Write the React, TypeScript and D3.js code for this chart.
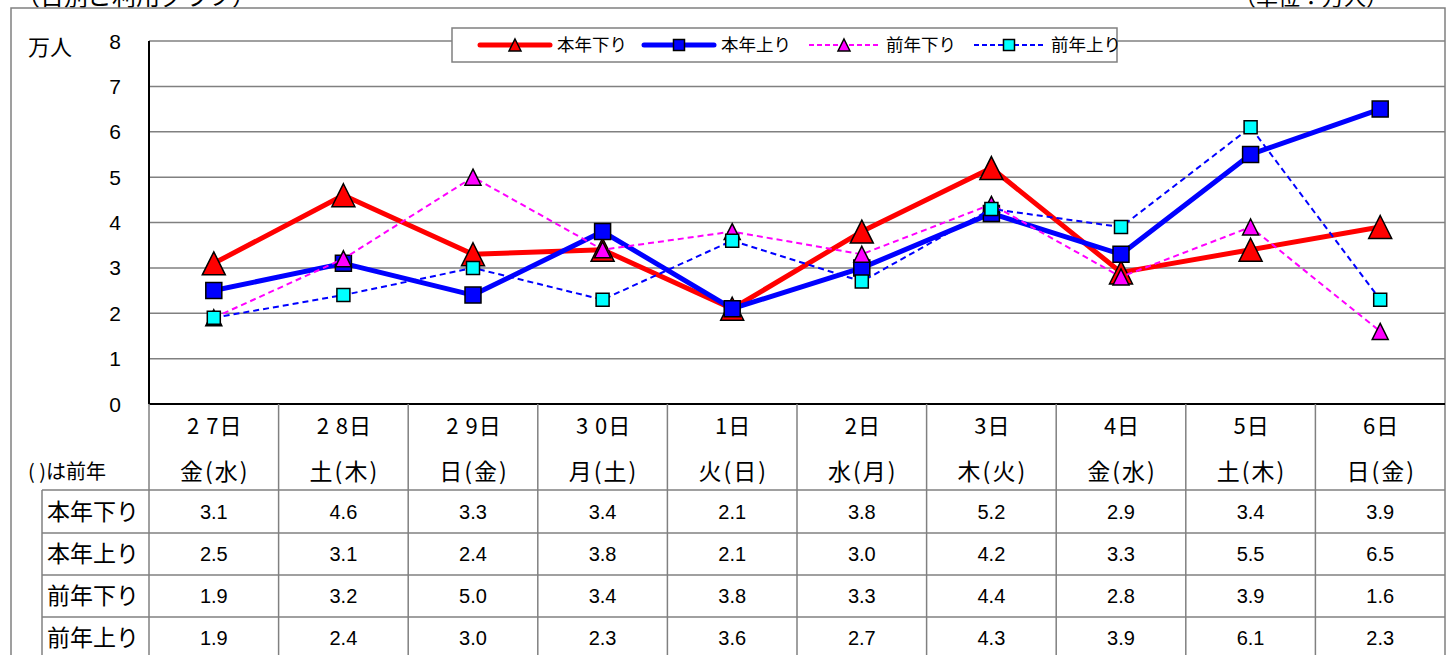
import * as d3 from "d3";
import { useEffect, useRef } from "react";

// categories
const days = ["2 7日", "2 8日", "2 9日", "3 0日", "1日", "2日", "3日", "4日", "5日", "6日"];
const weekdays = ["金(水)", "土(木)", "日(金)", "月(土)", "火(日)", "水(月)", "木(火)", "金(水)", "土(木)", "日(金)"];
const yTicks = [0, 1, 2, 3, 4, 5, 6, 7, 8];

// series values (万人)
const thisDown = [3.1, 4.6, 3.3, 3.4, 2.1, 3.8, 5.2, 2.9, 3.4, 3.9];
const thisUp = [2.5, 3.1, 2.4, 3.8, 2.1, 3.0, 4.2, 3.3, 5.5, 6.5];
const lastDown = [1.9, 3.2, 5.0, 3.4, 3.8, 3.3, 4.4, 2.8, 3.9, 1.6];
const lastUp = [1.9, 2.4, 3.0, 2.3, 3.6, 2.7, 4.3, 3.9, 6.1, 2.3];

const seriesNames = ["本年下り", "本年上り", "前年下り", "前年上り"];

const JP = "'Noto Sans CJK JP', sans-serif";
const NUM = "'Liberation Sans', Arial, sans-serif";

export default function App() {
  const svgRef = useRef(null);

  useEffect(() => {
    document.body.style.margin = "0";
    const svg = d3.select(svgRef.current);
    svg.selectAll("*").remove();

    const left = 149, right = 1445, top = 41, bottom = 404;
    const x = d3.scaleBand().domain(d3.range(days.length).map(String)).range([left, right]);
    const y = d3.scaleLinear().domain([0, 8]).range([bottom, top]);
    const cx = (i) => x(String(i)) + x.bandwidth() / 2;

    const series = [
      { name: seriesNames[0], data: thisDown, color: "#ff0000", width: 5, dash: null, marker: "tri", size: 23, fill: "#ff0000" },
      { name: seriesNames[1], data: thisUp, color: "#0000ff", width: 5, dash: null, marker: "sq", size: 16, fill: "#0000ff" },
      { name: seriesNames[2], data: lastDown, color: "#ff00ff", width: 2, dash: "6,4", marker: "tri", size: 16, fill: "#ff00ff" },
      { name: seriesNames[3], data: lastUp, color: "#0000ff", width: 2, dash: "6,4", marker: "sq", size: 13, fill: "#00ffff" },
    ];

    // titles (clipped at top)
    svg.append("text").attr("x", 16).attr("y", 5).attr("font-family", JP).attr("font-size", 24)
      .text("（日別ご利用グラフ）");
    svg.append("text").attr("x", 1388).attr("y", 5).attr("text-anchor", "end").attr("font-family", JP).attr("font-size", 22)
      .text("（単位：万人）");

    // outer frame
    const grey = "#808080";
    svg.append("path").attr("d", `M11,655V8H${right}V655`).attr("fill", "none").attr("stroke", grey).attr("stroke-width", 1.5);

    // gridlines
    svg.append("g").selectAll("line").data(yTicks.filter((t) => t > 0)).join("line")
      .attr("x1", left).attr("x2", right).attr("y1", (d) => y(d)).attr("y2", (d) => y(d))
      .attr("stroke", grey).attr("stroke-width", 1.5);

    // axes
    svg.append("line").attr("x1", left).attr("x2", left).attr("y1", top).attr("y2", bottom).attr("stroke", "#000").attr("stroke-width", 2);
    svg.append("line").attr("x1", left).attr("x2", right).attr("y1", bottom).attr("y2", bottom).attr("stroke", "#000").attr("stroke-width", 2);

    svg.append("g").selectAll("text").data(yTicks).join("text")
      .attr("x", 121).attr("y", (d) => y(d)).attr("dy", "0.36em").attr("text-anchor", "end")
      .attr("font-family", NUM).attr("font-size", 21).text((d) => d);
    svg.append("text").attr("x", 28).attr("y", 47).attr("dy", "0.36em").attr("font-family", JP).attr("font-size", 22).text("万人");

    // lines + markers
    const line = d3.line().x((d, i) => cx(i)).y((d) => y(d));
    const markerPath = (type, s) =>
      type === "tri"
        ? `M0,${-s / 2}L${s / 2},${s / 2}L${-s / 2},${s / 2}Z`
        : `M${-s / 2},${-s / 2}H${s / 2}V${s / 2}H${-s / 2}Z`;

    series.forEach((s) => {
      svg.append("path").datum(s.data).attr("d", line).attr("fill", "none")
        .attr("stroke", s.color).attr("stroke-width", s.width).attr("stroke-dasharray", s.dash)
        .attr("stroke-linejoin", "round");
      svg.append("g").selectAll("path").data(s.data).join("path")
        .attr("transform", (d, i) => `translate(${cx(i)},${y(d)})`)
        .attr("d", markerPath(s.marker, s.size))
        .attr("fill", s.fill).attr("stroke", "#000").attr("stroke-width", 1.5).attr("stroke-linejoin", "miter");
    });

    // legend
    const lg = svg.append("g");
    lg.append("rect").attr("x", 452).attr("y", 28).attr("width", 665).attr("height", 34)
      .attr("fill", "#fff").attr("stroke", grey).attr("stroke-width", 1.5);
    const legendX = [480, 644, 809, 974];
    const legendMarkerSize = [12, 11, 12, 11];
    series.forEach((s, k) => {
      const x0 = legendX[k];
      lg.append("line").attr("x1", x0).attr("x2", x0 + 70).attr("y1", 45).attr("y2", 45)
        .attr("stroke", s.color).attr("stroke-width", s.width).attr("stroke-dasharray", s.dash ? "5,3" : null).attr("stroke-linecap", s.dash ? "butt" : "round");
      lg.append("path").attr("transform", `translate(${x0 + 35},45)`).attr("d", markerPath(s.marker, legendMarkerSize[k]))
        .attr("fill", s.fill).attr("stroke", "#000").attr("stroke-width", 1.5);
      lg.append("text").attr("x", x0 + 77).attr("y", 45).attr("dy", "0.36em").attr("font-family", JP).attr("font-size", 17.5).text(s.name);
    });

    // data table
    const rowTops = [490, 533, 575, 617, 659];
    const tg = svg.append("g");
    x.domain().forEach((k) => {
      tg.append("line").attr("x1", x(k)).attr("x2", x(k)).attr("y1", bottom).attr("y2", 655).attr("stroke", grey).attr("stroke-width", 1.5);
    });
    tg.append("line").attr("x1", 42).attr("x2", 42).attr("y1", rowTops[0]).attr("y2", 655).attr("stroke", grey).attr("stroke-width", 1.5);
    rowTops.slice(0, 4).forEach((ry) => {
      tg.append("line").attr("x1", 42).attr("x2", right).attr("y1", ry).attr("y2", ry).attr("stroke", grey).attr("stroke-width", 1.5);
    });

    tg.selectAll("text.day").data(days).join("text").attr("class", "day")
      .attr("x", (d, i) => cx(i) + 1).attr("y", 426).attr("dy", "0.36em").attr("text-anchor", "middle")
      .attr("font-family", JP).attr("font-size", 22).attr("letter-spacing", 1).style("white-space", "pre").text((d) => d);
    tg.selectAll("text.wd").data(weekdays).join("text").attr("class", "wd")
      .attr("x", (d, i) => cx(i) + 1).attr("y", 472).attr("dy", "0.36em").attr("text-anchor", "middle")
      .attr("font-family", JP).attr("font-size", 23).attr("letter-spacing", 2).text((d) => d);
    tg.append("text").attr("x", 28).attr("y", 472).attr("dy", "0.36em").attr("font-family", JP).attr("font-size", 20).style("white-space", "pre").text("( )は前年");

    series.forEach((s, r) => {
      const yc = (rowTops[r] + rowTops[r + 1]) / 2;
      tg.append("text").attr("x", 47).attr("y", yc).attr("dy", "0.36em").attr("font-family", JP).attr("font-size", 23).text(s.name);
      tg.append("g").selectAll("text").data(s.data).join("text")
        .attr("x", (d, i) => cx(i)).attr("y", yc).attr("dy", "0.36em").attr("text-anchor", "middle")
        .attr("font-family", NUM).attr("font-size", 20).text((d) => d3.format(".1f")(d));
    });
  }, []);

  return <svg ref={svgRef} width={1448} height={655} style={{ display: "block", background: "#fff" }} />;
}
